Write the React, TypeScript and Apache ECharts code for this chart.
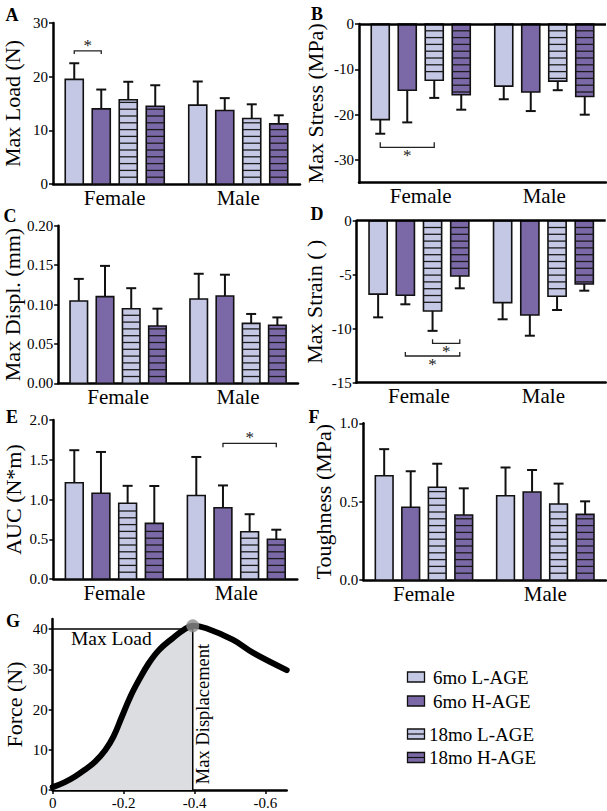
import React, { useEffect, useRef } from 'react';
import * as echarts from 'echarts';

const FONT = 'Liberation Serif, Times New Roman, serif';

const sexes = ['Female', 'Male'];
const groups = ['6mo L-AGE', '6mo H-AGE', '18mo L-AGE', '18mo H-AGE'];
const groupColors = ['#c4c8e5', '#7b69a7', '#c4c8e5', '#7b69a7'];
const groupHatched = [false, false, true, true];

// A: Max Load (N)
const maxLoadFemale = [19.5, 14.0, 15.7, 14.5];
const maxLoadMale = [14.7, 13.7, 12.2, 11.2];
const maxLoadSdFemale = [3.0, 3.6, 3.35, 3.9];
const maxLoadSdMale = [4.4, 2.3, 2.65, 1.6];

// B: Max Stress (MPa)
const maxStressFemale = [-21.1, -14.6, -12.4, -15.6];
const maxStressMale = [-13.7, -15.0, -12.6, -16.0];
const maxStressSdFemale = [3.1, 7.1, 3.9, 3.3];
const maxStressSdMale = [2.9, 4.2, 2.0, 4.0];

// C: Max Displ. (mm)
const maxDisplFemale = [0.1045, 0.110, 0.0947, 0.0727];
const maxDisplMale = [0.107, 0.1108, 0.076, 0.0736];
const maxDisplSdFemale = [0.028, 0.039, 0.026, 0.022];
const maxDisplSdMale = [0.032, 0.027, 0.012, 0.010];

// D: Max Strain
const maxStrainFemale = [-6.8, -6.9, -8.36, -5.12];
const maxStrainMale = [-7.59, -8.73, -7.0, -5.86];
const maxStrainSdFemale = [2.15, 0.84, 1.84, 1.14];
const maxStrainSdMale = [1.54, 1.92, 1.27, 0.62];

// E: AUC (N*m)
const aucFemale = [1.21, 1.078, 0.952, 0.70];
const aucMale = [1.05, 0.897, 0.595, 0.50];
const aucSdFemale = [0.41, 0.52, 0.22, 0.47];
const aucSdMale = [0.485, 0.28, 0.22, 0.12];

// F: Toughness (MPa)
const toughFemale = [0.665, 0.464, 0.592, 0.415];
const toughMale = [0.538, 0.562, 0.485, 0.419];
const toughSdFemale = [0.17, 0.23, 0.15, 0.17];
const toughSdMale = [0.18, 0.14, 0.13, 0.083];

// significance brackets: [sexIndex, yValue, groupFrom, groupTo]
const sigA = [[0, 24.8, 0, 1]];
const sigB = [[0, -27.2, 0, 2]];
const sigD = [[0, -11.35, 2, 3], [0, -12.53, 1, 3]];
const sigE = [[1, 1.707, 1, 3]];

// G: force-displacement curve
const curveDisp = [0, -0.033, -0.062, -0.09, -0.119, -0.148, -0.171, -0.195, -0.219, -0.243, -0.271, -0.3, -0.338, -0.371, -0.395, -0.433, -0.509, -0.567, -0.66];
const curveForce = [0.7, 1.9, 3.3, 5.0, 7.0, 9.9, 13.2, 18.2, 23.2, 27.3, 31.5, 34.8, 37.7, 39.9, 40.8, 40.2, 37.3, 34.0, 29.8];
const peakIndex = 14;
const maxLoadLevel = 40;
const gXTicks = [0, -0.2, -0.4, -0.6];
const gYTicks = [0, 10, 20, 30, 40];

const panels = [
  { letter: 'A', name: 'Max Load (N)', f: maxLoadFemale, m: maxLoadMale, sf: maxLoadSdFemale, sm: maxLoadSdMale, min: 0, max: 30, ticks: [0, 10, 20, 30], dec: 0, sig: sigA, sigTick: 3, starOff: -5,
    grid: { left: 53, top: 23, width: 247, height: 161 }, nameGap: 30, lx: 12, ly: 15, zero: false },
  { letter: 'B', name: 'Max Stress (MPa)', f: maxStressFemale, m: maxStressMale, sf: maxStressSdFemale, sm: maxStressSdMale, min: -35, max: 0, ticks: [0, -10, -20, -30], dec: 0, sig: sigB, sigTick: -5, starOff: 8,
    grid: { left: 359, top: 24, width: 247, height: 158.7 }, nameGap: 33, lx: 317, ly: 14, zero: true },
  { letter: 'C', name: 'Max Displ. (mm)', f: maxDisplFemale, m: maxDisplMale, sf: maxDisplSdFemale, sm: maxDisplSdMale, min: 0, max: 0.2, ticks: [0, 0.05, 0.1, 0.15, 0.2], dec: 2, sig: [], sigTick: 0, starOff: 0,
    grid: { left: 56, top: 225.7, width: 242, height: 157.6 }, nameGap: 33, lx: 10, ly: 216, zero: false },
  { letter: 'D', name: 'Max Strain ( )', f: maxStrainFemale, m: maxStrainMale, sf: maxStrainSdFemale, sm: maxStrainSdMale, min: -15, max: 0, ticks: [0, -5, -10, -15], dec: 0, sig: sigD, sigTick: -4, starOff: 8,
    grid: { left: 356.7, top: 220.7, width: 249, height: 162 }, nameGap: 31, lx: 317, ly: 214, zero: true },
  { letter: 'E', name: 'AUC (N*m)', f: aucFemale, m: aucMale, sf: aucSdFemale, sm: aucSdMale, min: 0, max: 2, ticks: [0, 0.5, 1, 1.5, 2], dec: 1, sig: sigE, sigTick: 4, starOff: -6,
    grid: { left: 53.3, top: 420, width: 244, height: 159 }, nameGap: 29, lx: 12, ly: 417, zero: false },
  { letter: 'F', name: 'Toughness (MPa)', f: toughFemale, m: toughMale, sf: toughSdFemale, sm: toughSdMale, min: 0, max: 1, ticks: [0, 0.5, 1], dec: 1, sig: [], sigTick: 0, starOff: 0,
    grid: { left: 363.3, top: 423.3, width: 242.7, height: 156.7 }, nameGap: 29, lx: 314, ly: 417, zero: false },
];

const STEP = 0.2186;
const BARW = 0.146;
const STRIPE = 6.8;

function barRender(params: any, api: any) {
  const s = api.value(0);
  const v = api.value(1);
  const sd = api.value(2);
  const g = api.value(3);
  const band = api.size([1, 0])[0];
  const base = api.coord([s, 0]);
  const cx = base[0] + (g - 1.5) * band * STEP;
  const w = band * BARW;
  const yv = api.coord([s, v])[1];
  const ye = api.coord([s, v + Math.sign(v) * sd])[1];
  const y0 = base[1];
  const top = Math.min(yv, y0);
  const h = Math.abs(yv - y0);
  const children: any[] = [];
  children.push({ type: 'line', shape: { x1: cx, y1: yv, x2: cx, y2: ye }, style: { stroke: '#111', lineWidth: 2 } });
  children.push({ type: 'line', shape: { x1: cx - 5, y1: ye, x2: cx + 5, y2: ye }, style: { stroke: '#111', lineWidth: 2 } });
  children.push({ type: 'rect', shape: { x: cx - w / 2, y: top, width: w, height: h }, style: { fill: groupColors[g], stroke: '#111', lineWidth: 1.6 } });
  if (groupHatched[g]) {
    for (let k = STRIPE; k < h - 2; k += STRIPE) {
      const y = v > 0 ? y0 - k : y0 + k;
      children.push({ type: 'line', shape: { x1: cx - w / 2, y1: y, x2: cx + w / 2, y2: y }, style: { stroke: '#1a1a1a', lineWidth: 1.3 } });
    }
  }
  return { type: 'group', children };
}

function makeSigRender(tick: number, starOff: number) {
  return function (params: any, api: any) {
    const s = api.value(0);
    const y = api.value(1);
    const g1 = api.value(2);
    const g2 = api.value(3);
    const band = api.size([1, 0])[0];
    const p = api.coord([s, y]);
    const x1 = p[0] + (g1 - 1.5) * band * STEP;
    const x2 = p[0] + (g2 - 1.5) * band * STEP;
    return {
      type: 'group',
      children: [
        { type: 'polyline', shape: { points: [[x1, p[1] + tick], [x1, p[1]], [x2, p[1]], [x2, p[1] + tick]] }, style: { stroke: '#222', lineWidth: 1.3, fill: 'none' } },
        { type: 'text', x: (x1 + x2) / 2, y: p[1] + starOff, style: { text: '*', fontFamily: FONT, fontSize: 17, fill: '#222', align: 'center', verticalAlign: 'middle' } },
      ],
    };
  };
}

export default function App() {
  const ref = useRef<HTMLDivElement>(null);
  useEffect(() => {
    if (!ref.current) return;
    const chart = echarts.init(ref.current, null, { renderer: 'svg' });
    const axisLineStyle = { color: '#000', width: 2.5 };
    const grids: any[] = [];
    const xAxes: any[] = [];
    const yAxes: any[] = [];
    const series: any[] = [];
    const graphic: any[] = [];

    panels.forEach((p, i) => {
      grids.push({ ...p.grid });
      xAxes.push({
        type: 'category', gridIndex: i, data: sexes,
        axisLine: { onZero: false, lineStyle: axisLineStyle },
        axisTick: { alignWithLabel: true, length: 4, lineStyle: { color: '#000', width: 2 } },
        axisLabel: { fontFamily: FONT, fontSize: 21, color: '#000', margin: 3 },
        splitLine: { show: false },
      });
      yAxes.push({
        type: 'value', gridIndex: i, min: p.min, max: p.max,
        axisLine: { show: true, onZero: false, lineStyle: axisLineStyle },
        axisTick: { show: true, length: 4, customValues: p.ticks, lineStyle: { color: '#000', width: 1.5 } },
        axisLabel: { customValues: p.ticks, formatter: (v: number) => v.toFixed(p.dec), fontFamily: FONT, fontSize: 15, color: '#000', margin: 5 },
        splitLine: { show: false },
        name: p.name, nameLocation: 'middle', nameGap: p.nameGap,
        nameTextStyle: { fontFamily: FONT, fontSize: 22, color: '#000' },
      });
      const data: any[] = [];
      for (let g = 0; g < 4; g++) data.push([0, p.f[g], p.sf[g], g]);
      for (let g = 0; g < 4; g++) data.push([1, p.m[g], p.sm[g], g]);
      const s: any = {
        type: 'custom', name: p.name, xAxisIndex: i, yAxisIndex: i, data, clip: false,
        encode: { x: 0, y: 1 }, renderItem: barRender, silent: true, z: 3,
      };
      if (p.zero) {
        s.markLine = { silent: true, symbol: 'none', label: { show: false }, lineStyle: { color: '#000', width: 2.5, type: 'solid' }, data: [{ yAxis: 0 }] };
      }
      series.push(s);
      if (p.sig.length) {
        series.push({
          type: 'custom', xAxisIndex: i, yAxisIndex: i, data: p.sig, clip: false,
          encode: { x: 0, y: 1 }, renderItem: makeSigRender(p.sigTick, p.starOff), silent: true, z: 4,
        });
      }
      graphic.push({ type: 'text', x: p.lx, y: p.ly, style: { text: p.letter, fontFamily: FONT, fontWeight: 'bold', fontSize: 18, fill: '#000', align: 'center', verticalAlign: 'middle' } });
    });

    // Panel G
    const gi = 6;
    grids.push({ left: 52.7, top: 619, width: 234, height: 171 });
    xAxes.push({
      type: 'value', gridIndex: gi, min: -0.66, max: 0, inverse: true,
      axisLine: { onZero: false, lineStyle: axisLineStyle },
      axisTick: { show: true, length: 4, customValues: gXTicks, lineStyle: { color: '#000', width: 1.5 } },
      axisLabel: { customValues: gXTicks, formatter: (v: number) => (v === 0 ? '0' : v.toFixed(1)), fontFamily: FONT, fontSize: 15, color: '#000', margin: 5 },
      splitLine: { show: false },
    });
    yAxes.push({
      type: 'value', gridIndex: gi, min: 0, max: 42.5,
      axisLine: { show: true, onZero: false, lineStyle: axisLineStyle },
      axisTick: { show: true, length: 4, customValues: gYTicks, lineStyle: { color: '#000', width: 1.5 } },
      axisLabel: { customValues: gYTicks, formatter: (v: number) => String(v), fontFamily: FONT, fontSize: 15, color: '#000', margin: 5 },
      splitLine: { show: false },
      name: 'Force (N)', nameLocation: 'middle', nameGap: 27,
      nameTextStyle: { fontFamily: FONT, fontSize: 22, color: '#000' },
    });
    const curve = curveDisp.map((d, k) => [d, curveForce[k]]);
    const peak = curve[peakIndex];
    series.push({
      type: 'line', xAxisIndex: gi, yAxisIndex: gi, data: curve.slice(0, peakIndex + 1), smooth: 0.4,
      showSymbol: false, lineStyle: { width: 0, opacity: 0 }, areaStyle: { color: '#dcdde1', opacity: 1 }, silent: true, z: 1,
    });
    series.push({
      type: 'line', xAxisIndex: gi, yAxisIndex: gi, data: [[0, maxLoadLevel], [peak[0], maxLoadLevel]],
      showSymbol: false, lineStyle: { width: 1.5, color: '#000' }, silent: true, z: 2,
    });
    series.push({
      type: 'line', xAxisIndex: gi, yAxisIndex: gi, data: [[peak[0], 0], [peak[0], peak[1]]],
      showSymbol: false, lineStyle: { width: 1.5, color: '#000' }, silent: true, z: 2,
    });
    series.push({
      type: 'line', xAxisIndex: gi, yAxisIndex: gi, data: curve, smooth: 0.4,
      showSymbol: false, lineStyle: { width: 6, color: '#000', cap: 'round', join: 'round' }, silent: true, z: 3,
    });
    series.push({
      type: 'scatter', xAxisIndex: gi, yAxisIndex: gi, data: [peak], symbolSize: 13,
      itemStyle: { color: '#8c8c8c' }, silent: true, z: 5,
    });
    graphic.push({ type: 'text', x: 13, y: 621, style: { text: 'G', fontFamily: FONT, fontWeight: 'bold', fontSize: 18, fill: '#000', align: 'center', verticalAlign: 'middle' } });
    graphic.push({ type: 'text', x: 71, y: 638, style: { text: 'Max Load', fontFamily: FONT, fontSize: 19.5, fill: '#000', align: 'left', verticalAlign: 'middle' } });
    graphic.push({ type: 'text', x: 203, y: 714, rotation: Math.PI / 2, style: { text: 'Max Displacement', fontFamily: FONT, fontSize: 18.5, fill: '#000', align: 'center', verticalAlign: 'middle' } });

    // Legend
    const legendY = [677, 701, 734, 757.5];
    const legendTextX = [433, 433, 429, 429];
    groups.forEach((name, g) => {
      graphic.push({ type: 'rect', shape: { x: 407.5, y: legendY[g] - 5, width: 17, height: 10 }, style: { fill: groupColors[g], stroke: '#111', lineWidth: 1.3 } });
      if (groupHatched[g]) {
        graphic.push({ type: 'line', shape: { x1: 407.5, y1: legendY[g], x2: 424.5, y2: legendY[g] }, style: { stroke: '#111', lineWidth: 1.2 } });
      }
      graphic.push({ type: 'text', x: legendTextX[g], y: legendY[g], style: { text: name, fontFamily: FONT, fontSize: 19, fill: '#000', align: 'left', verticalAlign: 'middle' } });
    });

    chart.setOption({
      animation: false,
      backgroundColor: '#fff',
      textStyle: { fontFamily: FONT },
      grid: grids,
      xAxis: xAxes,
      yAxis: yAxes,
      series,
      graphic,
    });
    return () => chart.dispose();
  }, []);
  return <div ref={ref} style={{ position: 'absolute', left: 0, top: 0, width: 607, height: 811 }} />;
}
